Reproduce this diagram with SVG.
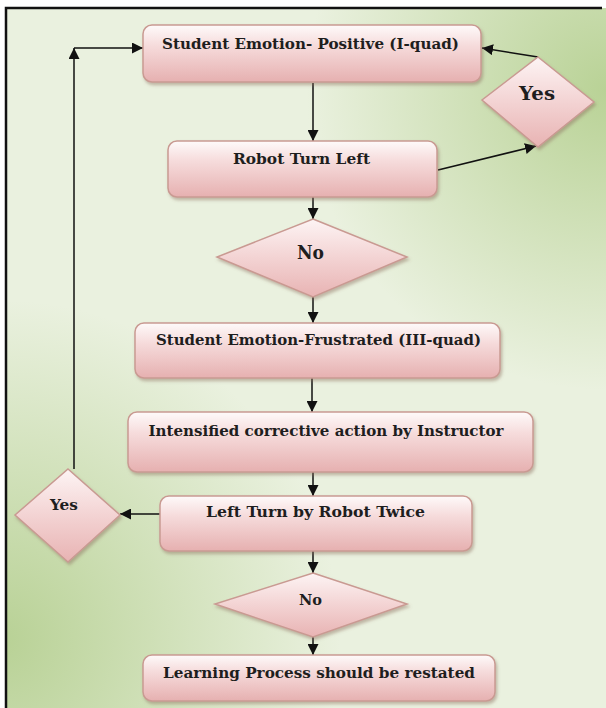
<svg xmlns="http://www.w3.org/2000/svg" width="606" height="708" viewBox="0 0 606 708">
<defs>
  <radialGradient id="bgTR" cx="606" cy="90" r="300" gradientUnits="userSpaceOnUse">
    <stop offset="0" stop-color="#b9d296" stop-opacity="1"/>
    <stop offset="1" stop-color="#b9d296" stop-opacity="0"/>
  </radialGradient>
  <radialGradient id="bgBL" cx="0" cy="640" r="340" gradientUnits="userSpaceOnUse">
    <stop offset="0" stop-color="#b8d195" stop-opacity="1"/>
    <stop offset="1" stop-color="#b8d195" stop-opacity="0"/>
  </radialGradient>
  <linearGradient id="boxFill" x1="0" y1="0" x2="0" y2="1">
    <stop offset="0" stop-color="#fefafa"/>
    <stop offset="0.35" stop-color="#f6dcdc"/>
    <stop offset="1" stop-color="#e6b0b0"/>
  </linearGradient>
  <linearGradient id="diaFill" x1="0" y1="0" x2="0" y2="1">
    <stop offset="0" stop-color="#fdf4f4"/>
    <stop offset="0.5" stop-color="#f3d3d3"/>
    <stop offset="1" stop-color="#e8b3b3"/>
  </linearGradient>
  <filter id="shadow" x="-10%" y="-10%" width="125%" height="140%">
    <feDropShadow dx="1.5" dy="2.5" stdDeviation="1.5" flood-color="#8a6a5a" flood-opacity="0.45"/>
  </filter>
  <marker id="arrow" viewBox="0 0 10 10" refX="10" refY="5" markerWidth="11" markerHeight="11" markerUnits="userSpaceOnUse" orient="auto">
    <path d="M0,0 L10,5 L0,10 Z" fill="#111"/>
  </marker>
</defs>
<style>
  .box { fill: url(#boxFill); stroke: #c99a92; stroke-width: 1.5; filter: url(#shadow); }
  .dia { fill: url(#diaFill); stroke: #c99a92; stroke-width: 1.5; filter: url(#shadow); }
  .lbl { font-family: "DejaVu Serif", "Liberation Serif", serif; font-weight: bold; font-size: 15px; fill: #1e1e1e; text-anchor: middle; }
  .big { font-size: 18.5px; }
  .mid { font-size: 15px; }
  .conn { stroke: #111; stroke-width: 1.5; fill: none; marker-end: url(#arrow); }
</style>

<!-- background -->
<rect x="0" y="0" width="606" height="708" fill="#ffffff"/>
<rect x="6" y="8" width="600" height="700" fill="#eaf1df"/>
<rect x="6" y="8" width="600" height="700" fill="url(#bgTR)"/>
<rect x="6" y="8" width="600" height="700" fill="url(#bgBL)"/>
<path d="M6,708 V8 H602" fill="none" stroke="#111" stroke-width="2.5"/>

<g id="connectors">
  <path class="conn" d="M313,83 V141"/>
  <path class="conn" d="M313,197 V219"/>
  <path class="conn" d="M313,297 V323"/>
  <path class="conn" d="M312,378 V412"/>
  <path class="conn" d="M313,472 V496"/>
  <path class="conn" d="M313,551 V573"/>
  <path class="conn" d="M313,637 V655"/>
  <path class="conn" d="M160,514 H120"/>
  <path class="conn" d="M74,469 V48"/>
  <path class="conn" d="M74,48 H143"/>
  <path class="conn" d="M438,170 L536,146"/>
  <path class="conn" d="M538,57 L482,48"/>
</g>

<g id="box1">
  <rect class="box" x="143" y="25" width="338" height="57" rx="9"/>
  <text class="lbl" x="310.5" y="49" textLength="297" lengthAdjust="spacingAndGlyphs">Student Emotion- Positive (I-quad)</text>
</g>

<g id="yesTop">
  <polygon class="dia" points="538,57 594,102 538,147 482,100"/>
  <text class="lbl big" x="537" y="100" textLength="36" lengthAdjust="spacingAndGlyphs">Yes</text>
</g>

<g id="box2">
  <rect class="box" x="168" y="141" width="269" height="56" rx="9"/>
  <text class="lbl" x="301.5" y="164" textLength="137" lengthAdjust="spacingAndGlyphs">Robot Turn Left</text>
</g>

<g id="noTop">
  <polygon class="dia" points="313,219 407,257 313,297 217,257"/>
  <text class="lbl big" x="310.5" y="259" textLength="27" lengthAdjust="spacingAndGlyphs">No</text>
</g>

<g id="box3">
  <rect class="box" x="135" y="323" width="365" height="55" rx="9"/>
  <text class="lbl" x="318.5" y="345" textLength="325" lengthAdjust="spacingAndGlyphs">Student Emotion-Frustrated (III-quad)</text>
</g>

<g id="box4">
  <rect class="box" x="128" y="412" width="405" height="60" rx="9"/>
  <text class="lbl" x="326" y="436" textLength="355" lengthAdjust="spacingAndGlyphs">Intensified corrective action by Instructor</text>
</g>

<g id="box5">
  <rect class="box" x="160" y="496" width="312" height="55" rx="9"/>
  <text class="lbl" x="315.5" y="517" textLength="219" lengthAdjust="spacingAndGlyphs">Left Turn by Robot Twice</text>
</g>

<g id="yesLeft">
  <polygon class="dia" points="68,469 120,515 68,562 15,515"/>
  <text class="lbl" x="64" y="510" textLength="28" lengthAdjust="spacingAndGlyphs">Yes</text>
</g>

<g id="noBottom">
  <polygon class="dia" points="313,573 407,604 313,637 215,604"/>
  <text class="lbl mid" x="310.5" y="605" textLength="23" lengthAdjust="spacingAndGlyphs">No</text>
</g>

<g id="box6">
  <rect class="box" x="143" y="655" width="352" height="46" rx="9"/>
  <text class="lbl" x="319" y="678" textLength="312" lengthAdjust="spacingAndGlyphs">Learning Process should be restated</text>
</g>
</svg>
